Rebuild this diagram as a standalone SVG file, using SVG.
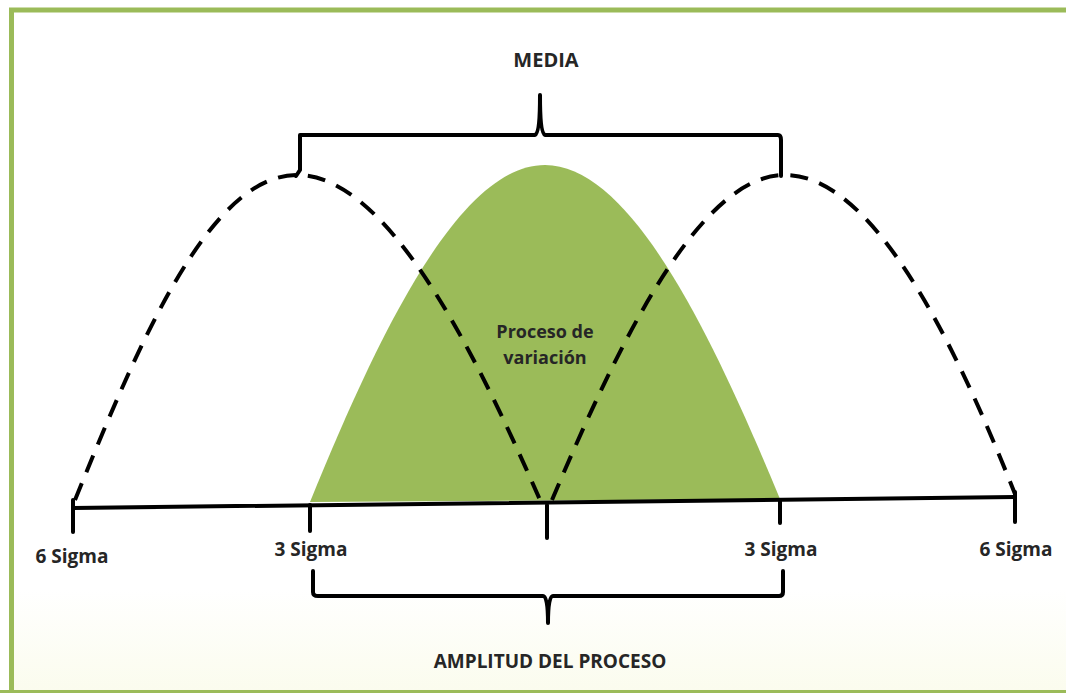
<svg xmlns="http://www.w3.org/2000/svg" width="1066" height="693" viewBox="0 0 1066 693">
<defs>
<linearGradient id="bg" x1="0" y1="0" x2="0" y2="1">
<stop offset="0" stop-color="#ffffff"/>
<stop offset="0.85" stop-color="#ffffff"/>
<stop offset="1" stop-color="#fbfcee"/>
</linearGradient>
<style>
.lbl{font-family:"Open Sans","Liberation Sans",sans-serif;font-weight:bold;font-size:19px;fill:#262626;text-anchor:middle}
.ln{fill:none;stroke:#000;stroke-width:4;stroke-linecap:round;stroke-linejoin:round}
.dash{fill:none;stroke:#000;stroke-width:4;stroke-dasharray:18 12}
</style>
</defs>
<rect x="0" y="0" width="1066" height="693" fill="#ffffff"/>
<rect x="14" y="13" width="1060" height="677" fill="url(#bg)"/>
<path d="M11.5,700 V10 H1070" fill="none" stroke="#9bbb59" stroke-width="5"/>
<line x1="0" y1="691.5" x2="1066" y2="691.5" stroke="#9bbb59" stroke-width="3"/>
<g id="bell">
<path d="M310,502 C380,330 460,165 545,165 C630,165 710,330 780,499 Z" fill="#9bbb59"/>
</g>
<g id="connectors">
<path class="dash" d="M75,500 C140,340 210,175 297,175 C385,175 470,340 540,500"/>
<path class="dash" d="M552,500 C620,340 700,175 785,175 C870,175 950,330 1015,494"/>
<path class="ln" d="M73,508 L1015,497"/>
<path class="ln" d="M73,500 V532"/>
<path class="ln" d="M310,505 V531"/>
<path class="ln" d="M547,505 V538"/>
<path class="ln" d="M780,500 V523"/>
<path class="ln" d="M1015,492 V522"/>
<path class="ln" d="M296,176 L300,170 V135 H535 Q540,133 540,95 Q540,133 545,135 H778 Q781,135 781,140 V176"/>
<path class="ln" d="M313,571 V592 Q313,596 318,596 H543 Q548,596 548,623 Q548,596 553,596 H779 Q783,596 783,592 V571"/>
</g>
<g id="media"><text class="lbl" x="546" y="67" style="font-size:20px">MEDIA</text></g>
<g id="proceso"><text class="lbl" x="545" y="338" style="font-size:18px">Proceso de</text><text class="lbl" x="545" y="364" style="font-size:18px">variación</text></g>
<g id="s6l"><text class="lbl" x="72" y="563">6 Sigma</text></g>
<g id="s3l"><text class="lbl" x="311" y="556">3 Sigma</text></g>
<g id="s3r"><text class="lbl" x="781" y="556">3 Sigma</text></g>
<g id="s6r"><text class="lbl" x="1016" y="556">6 Sigma</text></g>
<g id="amplitud"><text class="lbl" x="550" y="668">AMPLITUD DEL PROCESO</text></g>
</svg>
